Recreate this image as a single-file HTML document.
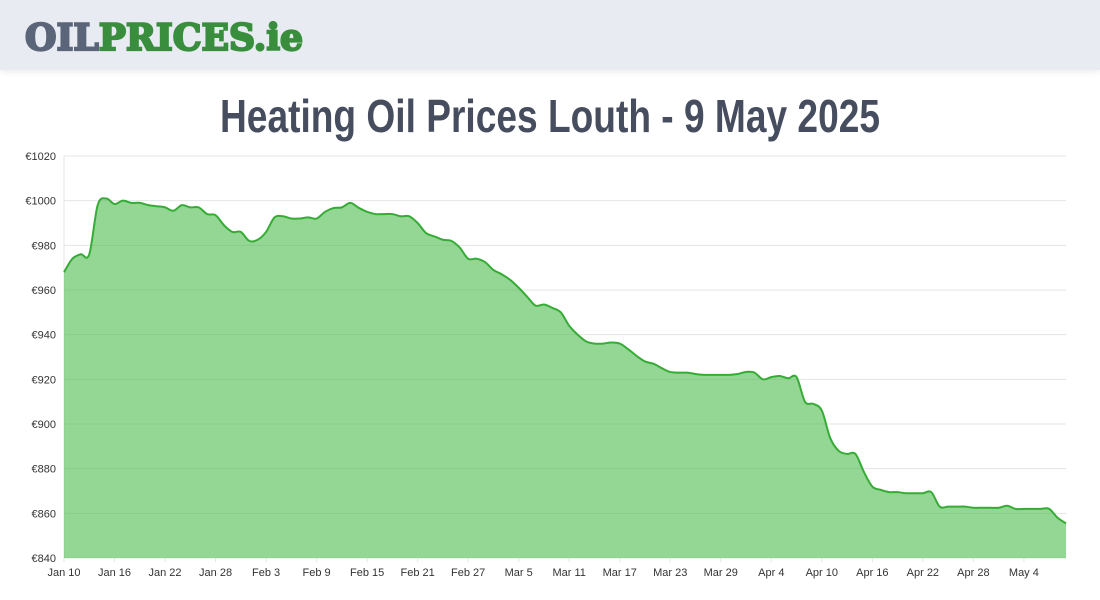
<!DOCTYPE html>
<html><head><meta charset="utf-8"><style>
body{margin:0;width:1100px;height:600px;background:#fff;overflow:hidden;font-family:"Liberation Sans",sans-serif}
#hdr{position:absolute;left:0;top:0;width:1100px;height:70px;background:#e9ebf3;box-shadow:0 2px 6px rgba(0,0,0,0.08)}
</style></head><body>
<div id="hdr">
<svg width="400" height="70"><text x="25" y="50" font-family="DejaVu Serif, Liberation Serif, serif" font-weight="bold" font-size="36" stroke-width="2.2" textLength="278" lengthAdjust="spacingAndGlyphs"><tspan fill="#5b6579" stroke="#5b6579">OIL</tspan><tspan fill="#388e3c" stroke="#388e3c">PRICES.ie</tspan></text></svg>
</div>
<svg id="chart" width="1100" height="600" style="position:absolute;left:0;top:0">
<text x="220" y="132" font-family="Liberation Sans, sans-serif" font-weight="bold" font-size="46" fill="#454d5e" textLength="660" lengthAdjust="spacingAndGlyphs">Heating Oil Prices Louth - 9 May 2025</text>
<g id="grid"></g><g id="series"></g><g id="axes"></g>
</svg>
<script>
const yTicks=[840,860,880,900,920,940,960,980,1000,1020];
const xTickLabels=["Jan 10","Jan 16","Jan 22","Jan 28","Feb 3","Feb 9","Feb 15","Feb 21","Feb 27","Mar 5","Mar 11","Mar 17","Mar 23","Mar 29","Apr 4","Apr 10","Apr 16","Apr 22","Apr 28","May 4"];
const prices=[968,974,976,976,998,1001,998.5,1000,999,999,998,997.5,997,995.5,998,997,997,994,993.5,989,986,986,982,982.5,986,992.5,993,992,992,992.5,992,995,996.7,997,999,996.8,995,994,994,994,993,993,990,985.5,984,982.5,982,979,974,974,972.5,969,967,964.5,961,957,953,953.5,952,950,944,940,937,936,936,936.5,936,933.5,930.5,928,927,925,923.3,923,923,922.4,922,922,922,922,922.4,923.3,923,920,921,921.5,920.5,921,910,909,906,893.7,888,886.6,886.6,878.5,872,870.5,869.5,869.5,869,869,869,869.5,863,863,863,863,862.5,862.5,862.5,862.5,863.4,862,862,862,862,862,858,855.5];
const L=64,R=1066,T=156,B=558,ns="http://www.w3.org/2000/svg";
const xs=d=>L+d*(R-L)/(prices.length-1);
const ys=v=>B-(v-840)*(B-T)/180;
function mk(tag,attrs,parent){const e=document.createElementNS(ns,tag);for(const k in attrs)e.setAttribute(k,attrs[k]);parent.appendChild(e);return e;}
const grid=document.getElementById('grid'),axes=document.getElementById('axes'),ser=document.getElementById('series');
yTicks.forEach(v=>{
 const l=mk('line',{x1:L,x2:R,y1:ys(v),y2:ys(v),stroke:'#e5e5e5','stroke-width':1},grid);
 
 
 const t=mk('text',{x:L-8,y:ys(v)+4,'text-anchor':'end','font-size':11,fill:'#333'},axes);
 t.textContent='€'+v;
 
 
});
mk('line',{x1:L,x2:L,y1:T,y2:B+4,stroke:'#e5e5e5'},grid);
xTickLabels.forEach((s,i)=>{
 const x=xs(i*6);
 mk('line',{x1:x,x2:x,y1:B,y2:B+4,stroke:'#e5e5e5'},grid);
 const t=mk('text',{x:x,y:B+18,'text-anchor':'middle','font-size':11,fill:'#333'},axes);
 t.textContent=s;
 
 
});
const pts=prices.map((v,i)=>[xs(i),ys(v)]);
let d='M'+pts[0][0]+','+pts[0][1];
for(let i=0;i<pts.length-1;i++){
 const p0=pts[Math.max(0,i-1)],p1=pts[i],p2=pts[i+1],p3=pts[Math.min(pts.length-1,i+2)];
 const c1=[p1[0]+(p2[0]-p0[0])/6,p1[1]+(p2[1]-p0[1])/6],c2=[p2[0]-(p3[0]-p1[0])/6,p2[1]-(p3[1]-p1[1])/6];
 d+=` C${c1[0]},${c1[1]} ${c2[0]},${c2[1]} ${p2[0]},${p2[1]}`;
}
const area=mk('path',{d:d+` L${R},${B} L${L},${B} Z`,fill:'rgba(76,187,76,0.6)'},ser);


const line=mk('path',{d:d,fill:'none',stroke:'#36ab36','stroke-width':2},ser);


</script>
</body></html>
